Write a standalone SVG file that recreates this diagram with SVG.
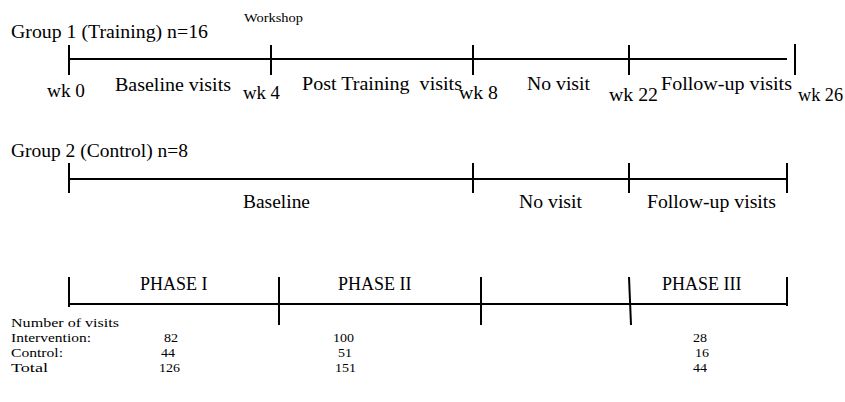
<svg xmlns="http://www.w3.org/2000/svg" width="845" height="402" viewBox="0 0 845 402">
  <style>
    .axis { stroke: #000; stroke-width: 2; fill: none; }
    .lbl { font-family: "Liberation Serif", "Times New Roman", serif; font-size: 18px; fill: #000; }
    .small { font-family: "Liberation Serif", "Times New Roman", serif; font-size: 13px; fill: #000; }
    .tbl { font-family: "Liberation Serif", "Times New Roman", serif; font-size: 13px; fill: #000; }
  </style>
  <rect width="845" height="402" fill="#fff"/>

  <!-- Group 1 timeline -->
  <g id="group1">
    <text class="lbl" x="11" y="38" textLength="197" lengthAdjust="spacingAndGlyphs">Group 1 (Training) n=16</text>
    <text class="small" x="244" y="22" textLength="59" lengthAdjust="spacingAndGlyphs">Workshop</text>
    <text class="lbl" x="47" y="97" textLength="38" lengthAdjust="spacingAndGlyphs">wk 0</text>
    <text class="lbl" x="115" y="91" textLength="116" lengthAdjust="spacingAndGlyphs">Baseline visits</text>
    <text class="lbl" x="243" y="99" textLength="37" lengthAdjust="spacingAndGlyphs">wk 4</text>
    <text class="lbl" x="302" y="90" textLength="160" lengthAdjust="spacingAndGlyphs">Post Training&#160; visits</text>
    <text class="lbl" x="459" y="99" textLength="39" lengthAdjust="spacingAndGlyphs">wk 8</text>
    <text class="lbl" x="527" y="90" textLength="63" lengthAdjust="spacingAndGlyphs">No visit</text>
    <text class="lbl" x="609" y="101" textLength="49" lengthAdjust="spacingAndGlyphs">wk 22</text>
    <text class="lbl" x="661" y="90" textLength="131" lengthAdjust="spacingAndGlyphs">Follow-up visits</text>
    <text class="lbl" x="798" y="101" textLength="45" lengthAdjust="spacingAndGlyphs">wk 26</text>
  </g>

  <!-- Group 2 timeline -->
  <g id="group2">
    <text class="lbl" x="11" y="157" textLength="177" lengthAdjust="spacingAndGlyphs">Group 2 (Control) n=8</text>
    <text class="lbl" x="243" y="208" textLength="67" lengthAdjust="spacingAndGlyphs">Baseline</text>
    <text class="lbl" x="519" y="208" textLength="63" lengthAdjust="spacingAndGlyphs">No visit</text>
    <text class="lbl" x="647" y="208" textLength="129" lengthAdjust="spacingAndGlyphs">Follow-up visits</text>
  </g>

  <!-- Phase bar -->
  <g id="phases">
    <text class="lbl" x="140" y="290">PHASE I</text>
    <text class="lbl" x="338" y="290">PHASE II</text>
    <text class="lbl" x="662" y="290">PHASE III</text>
  </g>

  <!-- Visit counts -->
  <g id="visit-counts">
    <text class="tbl" x="11" y="327" textLength="108" lengthAdjust="spacingAndGlyphs">Number of visits</text>
    <text class="tbl" x="11" y="342" textLength="80" lengthAdjust="spacingAndGlyphs">Intervention:</text>
    <text class="tbl" x="11" y="357" textLength="52" lengthAdjust="spacingAndGlyphs">Control:</text>
    <text class="tbl" x="11" y="372" textLength="37" lengthAdjust="spacingAndGlyphs">Total</text>
    <text class="tbl" x="164" y="342" textLength="14" lengthAdjust="spacingAndGlyphs">82</text>
    <text class="tbl" x="161" y="357" textLength="14" lengthAdjust="spacingAndGlyphs">44</text>
    <text class="tbl" x="159" y="372" textLength="21" lengthAdjust="spacingAndGlyphs">126</text>
    <text class="tbl" x="333" y="342" textLength="21" lengthAdjust="spacingAndGlyphs">100</text>
    <text class="tbl" x="338" y="357" textLength="14" lengthAdjust="spacingAndGlyphs">51</text>
    <text class="tbl" x="335" y="372" textLength="21" lengthAdjust="spacingAndGlyphs">151</text>
    <text class="tbl" x="693" y="342" textLength="14" lengthAdjust="spacingAndGlyphs">28</text>
    <text class="tbl" x="695" y="357" textLength="14" lengthAdjust="spacingAndGlyphs">16</text>
    <text class="tbl" x="693" y="372" textLength="14" lengthAdjust="spacingAndGlyphs">44</text>
  </g>

  <!-- Axis lines and tick marks -->
  <g id="connectors" class="axis">
    <line x1="69" y1="59" x2="787" y2="59"/>
    <line x1="69" y1="45" x2="69" y2="75"/>
    <line x1="271" y1="45" x2="271" y2="75"/>
    <line x1="473" y1="45" x2="473" y2="75"/>
    <line x1="629" y1="45" x2="629" y2="75"/>
    <line x1="795" y1="44" x2="795" y2="75"/>

    <line x1="69" y1="179" x2="787" y2="179"/>
    <line x1="69" y1="163" x2="69" y2="193"/>
    <line x1="473" y1="163" x2="473" y2="193"/>
    <line x1="629" y1="163" x2="629" y2="193"/>
    <line x1="787" y1="163" x2="787" y2="193"/>

    <line x1="69" y1="304" x2="787" y2="304"/>
    <line x1="69" y1="277" x2="69" y2="307"/>
    <line x1="279" y1="277" x2="279" y2="325"/>
    <line x1="481" y1="277" x2="481" y2="325"/>
    <line x1="629" y1="277" x2="631" y2="325"/>
    <line x1="787" y1="277" x2="787" y2="306"/>
  </g>
</svg>
